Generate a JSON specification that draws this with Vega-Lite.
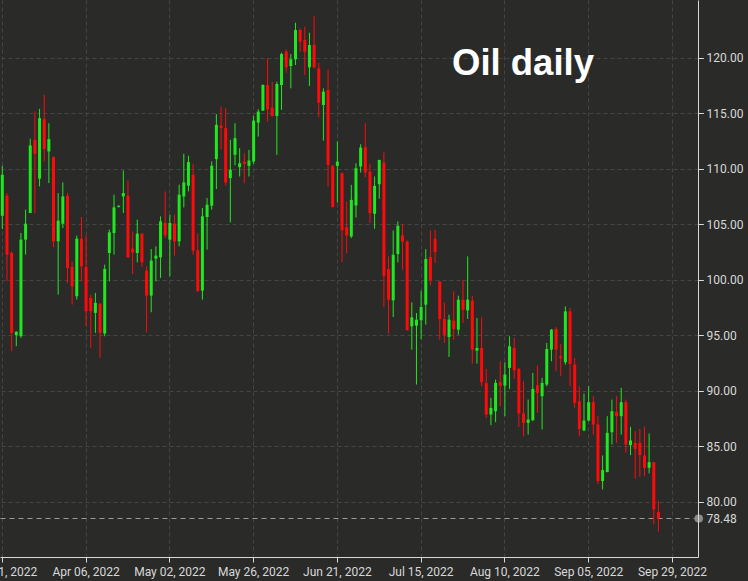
{
  "$schema": "https://vega.github.io/schema/vega-lite/v6.json",
  "autosize": {"type": "none"},
  "padding": {"left": 0, "top": 0, "right": 50, "bottom": 24},
  "width": 698,
  "height": 557,
  "background": "#2a2b29",
  "title": {
    "text": "Oil daily",
    "orient": "top",
    "anchor": "start",
    "frame": "group",
    "offset": 0,
    "baseline": "alphabetic",
    "dx": 452,
    "dy": 111,
    "font": "Liberation Sans",
    "fontSize": 36.5,
    "fontWeight": "bold",
    "color": "#ffffff"
  },
  "data": {
    "values": [
      {"d": "2022-03-11", "o": 105.76, "h": 110.26, "l": 104.56, "c": 109.45},
      {"d": "2022-03-14", "o": 107.56, "h": 107.8, "l": 99.85, "c": 102.25},
      {"d": "2022-03-15", "o": 102.4, "h": 102.55, "l": 93.55, "c": 95.2},
      {"d": "2022-03-16", "o": 95.0, "h": 95.35, "l": 94.0, "c": 95.3},
      {"d": "2022-03-17", "o": 94.9, "h": 104.2, "l": 94.75, "c": 103.6},
      {"d": "2022-03-18", "o": 103.6, "h": 106.3, "l": 102.25, "c": 105.04},
      {"d": "2022-03-21", "o": 106.0, "h": 112.69, "l": 106.0, "c": 112.09},
      {"d": "2022-03-22", "o": 112.6, "h": 115.15, "l": 106.0, "c": 111.34},
      {"d": "2022-03-23", "o": 109.09, "h": 115.39, "l": 108.4, "c": 114.55},
      {"d": "2022-03-24", "o": 114.46, "h": 116.65, "l": 110.65, "c": 111.76},
      {"d": "2022-03-25", "o": 111.55, "h": 114.1, "l": 108.7, "c": 112.66},
      {"d": "2022-03-28", "o": 111.04, "h": 111.1, "l": 102.91, "c": 103.45},
      {"d": "2022-03-29", "o": 103.45, "h": 107.8, "l": 98.65, "c": 105.31},
      {"d": "2022-03-30", "o": 105.04, "h": 108.76, "l": 104.65, "c": 107.5},
      {"d": "2022-03-31", "o": 107.56, "h": 107.8, "l": 99.7, "c": 101.05},
      {"d": "2022-04-01", "o": 101.14, "h": 101.65, "l": 97.75, "c": 99.4},
      {"d": "2022-04-04", "o": 98.5, "h": 103.96, "l": 98.2, "c": 103.69},
      {"d": "2022-04-05", "o": 103.69, "h": 105.64, "l": 99.85, "c": 101.2},
      {"d": "2022-04-06", "o": 101.14, "h": 103.99, "l": 95.8, "c": 97.15},
      {"d": "2022-04-07", "o": 98.35, "h": 98.65, "l": 93.85, "c": 97.15},
      {"d": "2022-04-08", "o": 97.0, "h": 98.8, "l": 95.2, "c": 97.9},
      {"d": "2022-04-11", "o": 97.84, "h": 97.84, "l": 92.95, "c": 95.2},
      {"d": "2022-04-12", "o": 95.14, "h": 101.35, "l": 94.9, "c": 100.96},
      {"d": "2022-04-13", "o": 102.4, "h": 104.5, "l": 99.85, "c": 104.26},
      {"d": "2022-04-14", "o": 104.2, "h": 107.65, "l": 102.25, "c": 106.51},
      {"d": "2022-04-15", "o": 106.55, "h": 106.7, "l": 106.5, "c": 106.65},
      {"d": "2022-04-18", "o": 107.5, "h": 109.84, "l": 106.0, "c": 107.8},
      {"d": "2022-04-19", "o": 107.56, "h": 108.94, "l": 101.95, "c": 102.01},
      {"d": "2022-04-20", "o": 102.79, "h": 104.35, "l": 100.51, "c": 102.46},
      {"d": "2022-04-21", "o": 102.4, "h": 105.4, "l": 101.56, "c": 104.14},
      {"d": "2022-04-22", "o": 104.14, "h": 104.2, "l": 101.14, "c": 101.56},
      {"d": "2022-04-25", "o": 100.81, "h": 101.2, "l": 95.26, "c": 98.56},
      {"d": "2022-04-26", "o": 98.56, "h": 102.76, "l": 97.06, "c": 101.71},
      {"d": "2022-04-27", "o": 101.89, "h": 103.0, "l": 99.85, "c": 102.16},
      {"d": "2022-04-28", "o": 102.01, "h": 105.7, "l": 100.15, "c": 105.25},
      {"d": "2022-04-29", "o": 105.1, "h": 107.95, "l": 103.75, "c": 103.99},
      {"d": "2022-05-02", "o": 103.6, "h": 105.85, "l": 100.3, "c": 105.1},
      {"d": "2022-05-03", "o": 105.04, "h": 105.85, "l": 102.16, "c": 103.45},
      {"d": "2022-05-04", "o": 103.45, "h": 108.55, "l": 103.0, "c": 107.65},
      {"d": "2022-05-05", "o": 107.5, "h": 111.34, "l": 106.51, "c": 108.76},
      {"d": "2022-05-06", "o": 108.46, "h": 111.16, "l": 107.95, "c": 110.59},
      {"d": "2022-05-09", "o": 109.45, "h": 110.44, "l": 102.25, "c": 102.61},
      {"d": "2022-05-10", "o": 102.64, "h": 104.14, "l": 98.95, "c": 98.95},
      {"d": "2022-05-11", "o": 99.01, "h": 106.45, "l": 98.2, "c": 105.7},
      {"d": "2022-05-12", "o": 105.64, "h": 107.35, "l": 102.7, "c": 106.75},
      {"d": "2022-05-13", "o": 106.66, "h": 110.65, "l": 106.3, "c": 110.26},
      {"d": "2022-05-16", "o": 110.86, "h": 114.91, "l": 108.16, "c": 113.95},
      {"d": "2022-05-17", "o": 113.89, "h": 115.6, "l": 111.76, "c": 113.65},
      {"d": "2022-05-18", "o": 113.65, "h": 115.45, "l": 108.46, "c": 108.76},
      {"d": "2022-05-19", "o": 109.15, "h": 112.6, "l": 105.16, "c": 109.9},
      {"d": "2022-05-20", "o": 111.25, "h": 114.1, "l": 110.3, "c": 112.75},
      {"d": "2022-05-23", "o": 110.13, "h": 111.84, "l": 109.29, "c": 110.49},
      {"d": "2022-05-24", "o": 110.64, "h": 111.39, "l": 108.69, "c": 110.43},
      {"d": "2022-05-25", "o": 110.25, "h": 111.69, "l": 109.29, "c": 110.73},
      {"d": "2022-05-26", "o": 110.64, "h": 114.75, "l": 110.43, "c": 114.33},
      {"d": "2022-05-27", "o": 114.15, "h": 115.35, "l": 112.89, "c": 115.14},
      {"d": "2022-05-30", "o": 115.23, "h": 117.6, "l": 115.2, "c": 117.54},
      {"d": "2022-05-31", "o": 117.54, "h": 119.94, "l": 114.24, "c": 115.35},
      {"d": "2022-06-01", "o": 115.5, "h": 117.84, "l": 114.69, "c": 114.75},
      {"d": "2022-06-02", "o": 114.75, "h": 117.84, "l": 111.24, "c": 117.63},
      {"d": "2022-06-03", "o": 117.54, "h": 120.45, "l": 115.29, "c": 120.33},
      {"d": "2022-06-06", "o": 120.54, "h": 120.75, "l": 118.65, "c": 119.13},
      {"d": "2022-06-07", "o": 119.25, "h": 120.33, "l": 117.24, "c": 119.85},
      {"d": "2022-06-08", "o": 119.85, "h": 123.15, "l": 119.34, "c": 122.49},
      {"d": "2022-06-09", "o": 122.49, "h": 122.64, "l": 120.54, "c": 121.44},
      {"d": "2022-06-10", "o": 121.59, "h": 122.79, "l": 118.44, "c": 120.54},
      {"d": "2022-06-13", "o": 119.13, "h": 122.25, "l": 117.45, "c": 121.14},
      {"d": "2022-06-14", "o": 121.14, "h": 123.75, "l": 119.04, "c": 119.13},
      {"d": "2022-06-15", "o": 119.04, "h": 119.55, "l": 114.63, "c": 115.95},
      {"d": "2022-06-16", "o": 115.74, "h": 117.24, "l": 112.53, "c": 116.94},
      {"d": "2022-06-17", "o": 117.09, "h": 118.95, "l": 108.39, "c": 110.34},
      {"d": "2022-06-20", "o": 110.25, "h": 110.34, "l": 106.53, "c": 106.53},
      {"d": "2022-06-21", "o": 110.25, "h": 112.44, "l": 106.95, "c": 110.64},
      {"d": "2022-06-22", "o": 109.59, "h": 109.65, "l": 101.55, "c": 104.46},
      {"d": "2022-06-23", "o": 104.73, "h": 107.04, "l": 102.39, "c": 103.98},
      {"d": "2022-06-24", "o": 103.89, "h": 108.54, "l": 103.74, "c": 107.19},
      {"d": "2022-06-27", "o": 106.68, "h": 110.49, "l": 105.6, "c": 110.04},
      {"d": "2022-06-28", "o": 110.19, "h": 112.2, "l": 109.65, "c": 111.9},
      {"d": "2022-06-29", "o": 111.93, "h": 114.09, "l": 109.23, "c": 109.65},
      {"d": "2022-06-30", "o": 109.74, "h": 110.43, "l": 105.09, "c": 105.99},
      {"d": "2022-07-01", "o": 105.93, "h": 109.29, "l": 104.58, "c": 108.45},
      {"d": "2022-07-04", "o": 108.6, "h": 110.79, "l": 107.28, "c": 110.79},
      {"d": "2022-07-05", "o": 110.55, "h": 111.48, "l": 97.53, "c": 100.35},
      {"d": "2022-07-06", "o": 100.95, "h": 102.09, "l": 95.13, "c": 98.19},
      {"d": "2022-07-07", "o": 98.13, "h": 104.43, "l": 96.63, "c": 102.24},
      {"d": "2022-07-08", "o": 102.3, "h": 105.24, "l": 101.55, "c": 104.85},
      {"d": "2022-07-11", "o": 103.98, "h": 105.03, "l": 100.89, "c": 103.44},
      {"d": "2022-07-12", "o": 103.44, "h": 103.53, "l": 95.43, "c": 95.43},
      {"d": "2022-07-13", "o": 95.79, "h": 97.95, "l": 93.69, "c": 96.6},
      {"d": "2022-07-14", "o": 95.85, "h": 96.99, "l": 90.54, "c": 96.39},
      {"d": "2022-07-15", "o": 96.33, "h": 99.0, "l": 94.65, "c": 97.53},
      {"d": "2022-07-18", "o": 97.74, "h": 102.75, "l": 95.94, "c": 101.85},
      {"d": "2022-07-19", "o": 102.03, "h": 104.43, "l": 99.48, "c": 99.93},
      {"d": "2022-07-20", "o": 103.68, "h": 104.49, "l": 101.49, "c": 102.48},
      {"d": "2022-07-21", "o": 99.84, "h": 99.84, "l": 94.59, "c": 96.45},
      {"d": "2022-07-22", "o": 96.45, "h": 97.95, "l": 94.29, "c": 95.04},
      {"d": "2022-07-25", "o": 94.83, "h": 96.84, "l": 93.03, "c": 96.39},
      {"d": "2022-07-26", "o": 96.3, "h": 98.94, "l": 94.59, "c": 95.55},
      {"d": "2022-07-27", "o": 95.49, "h": 98.55, "l": 95.04, "c": 98.19},
      {"d": "2022-07-28", "o": 98.19, "h": 99.99, "l": 96.09, "c": 97.29},
      {"d": "2022-07-29", "o": 97.23, "h": 102.09, "l": 96.45, "c": 98.19},
      {"d": "2022-08-01", "o": 98.1, "h": 98.55, "l": 92.43, "c": 93.69},
      {"d": "2022-08-02", "o": 93.6, "h": 96.54, "l": 92.43, "c": 93.84},
      {"d": "2022-08-03", "o": 93.84, "h": 96.6, "l": 90.39, "c": 90.75},
      {"d": "2022-08-04", "o": 90.69, "h": 91.95, "l": 87.54, "c": 87.84},
      {"d": "2022-08-05", "o": 87.84, "h": 89.34, "l": 86.88, "c": 88.44},
      {"d": "2022-08-08", "o": 88.14, "h": 90.99, "l": 87.15, "c": 90.69},
      {"d": "2022-08-09", "o": 90.75, "h": 92.64, "l": 88.59, "c": 90.45},
      {"d": "2022-08-10", "o": 90.45, "h": 92.55, "l": 87.69, "c": 91.44},
      {"d": "2022-08-11", "o": 92.04, "h": 94.89, "l": 90.15, "c": 93.99},
      {"d": "2022-08-12", "o": 93.84, "h": 94.74, "l": 91.05, "c": 91.83},
      {"d": "2022-08-15", "o": 91.95, "h": 92.04, "l": 86.73, "c": 87.93},
      {"d": "2022-08-16", "o": 87.93, "h": 90.84, "l": 85.89, "c": 87.09},
      {"d": "2022-08-17", "o": 87.09, "h": 89.19, "l": 86.04, "c": 87.39},
      {"d": "2022-08-18", "o": 87.33, "h": 91.59, "l": 87.24, "c": 90.15},
      {"d": "2022-08-19", "o": 90.48, "h": 92.25, "l": 87.99, "c": 89.79},
      {"d": "2022-08-22", "o": 89.49, "h": 91.14, "l": 86.49, "c": 90.69},
      {"d": "2022-08-23", "o": 90.54, "h": 94.29, "l": 90.39, "c": 93.75},
      {"d": "2022-08-24", "o": 93.69, "h": 95.55, "l": 92.64, "c": 95.49},
      {"d": "2022-08-25", "o": 95.55, "h": 95.73, "l": 91.74, "c": 93.69},
      {"d": "2022-08-26", "o": 93.09, "h": 94.2, "l": 91.29, "c": 92.91},
      {"d": "2022-08-29", "o": 92.55, "h": 97.59, "l": 92.34, "c": 97.14},
      {"d": "2022-08-30", "o": 97.14, "h": 97.44, "l": 90.39, "c": 92.4},
      {"d": "2022-08-31", "o": 92.34, "h": 92.94, "l": 88.44, "c": 88.89},
      {"d": "2022-09-01", "o": 89.04, "h": 90.39, "l": 85.89, "c": 86.55},
      {"d": "2022-09-02", "o": 86.4, "h": 89.73, "l": 86.34, "c": 87.3},
      {"d": "2022-09-05", "o": 87.3, "h": 90.39, "l": 87.24, "c": 88.95},
      {"d": "2022-09-06", "o": 88.95, "h": 89.49, "l": 86.04, "c": 86.94},
      {"d": "2022-09-07", "o": 86.94, "h": 87.69, "l": 81.54, "c": 81.84},
      {"d": "2022-09-08", "o": 81.84, "h": 84.15, "l": 81.09, "c": 82.83},
      {"d": "2022-09-09", "o": 82.65, "h": 87.69, "l": 82.65, "c": 86.19},
      {"d": "2022-09-12", "o": 86.25, "h": 89.19, "l": 85.14, "c": 88.14},
      {"d": "2022-09-13", "o": 88.08, "h": 89.49, "l": 85.29, "c": 87.69},
      {"d": "2022-09-14", "o": 87.69, "h": 90.24, "l": 86.04, "c": 88.95},
      {"d": "2022-09-15", "o": 88.95, "h": 89.19, "l": 84.39, "c": 85.14},
      {"d": "2022-09-16", "o": 85.08, "h": 86.73, "l": 84.18, "c": 85.5},
      {"d": "2022-09-19", "o": 85.29, "h": 86.34, "l": 82.05, "c": 84.75},
      {"d": "2022-09-20", "o": 85.29, "h": 86.55, "l": 82.23, "c": 84.18},
      {"d": "2022-09-21", "o": 84.15, "h": 86.73, "l": 82.29, "c": 83.04},
      {"d": "2022-09-22", "o": 83.04, "h": 86.13, "l": 82.53, "c": 83.55},
      {"d": "2022-09-23", "o": 83.55, "h": 83.55, "l": 77.94, "c": 79.29},
      {"d": "2022-09-26", "o": 79.05, "h": 80.04, "l": 77.3, "c": 78.48}
    ]
  },
  "encoding": {
    "x": {
      "field": "d",
      "type": "ordinal",
      "title": null,
      "scale": {
        "paddingInner": 0,
        "paddingOuter": 0,
        "domain": ["2022-03-11","2022-03-14","2022-03-15","2022-03-16","2022-03-17","2022-03-18","2022-03-21","2022-03-22","2022-03-23","2022-03-24","2022-03-25","2022-03-28","2022-03-29","2022-03-30","2022-03-31","2022-04-01","2022-04-04","2022-04-05","2022-04-06","2022-04-07","2022-04-08","2022-04-11","2022-04-12","2022-04-13","2022-04-14","2022-04-15","2022-04-18","2022-04-19","2022-04-20","2022-04-21","2022-04-22","2022-04-25","2022-04-26","2022-04-27","2022-04-28","2022-04-29","2022-05-02","2022-05-03","2022-05-04","2022-05-05","2022-05-06","2022-05-09","2022-05-10","2022-05-11","2022-05-12","2022-05-13","2022-05-16","2022-05-17","2022-05-18","2022-05-19","2022-05-20","2022-05-23","2022-05-24","2022-05-25","2022-05-26","2022-05-27","2022-05-30","2022-05-31","2022-06-01","2022-06-02","2022-06-03","2022-06-06","2022-06-07","2022-06-08","2022-06-09","2022-06-10","2022-06-13","2022-06-14","2022-06-15","2022-06-16","2022-06-17","2022-06-20","2022-06-21","2022-06-22","2022-06-23","2022-06-24","2022-06-27","2022-06-28","2022-06-29","2022-06-30","2022-07-01","2022-07-04","2022-07-05","2022-07-06","2022-07-07","2022-07-08","2022-07-11","2022-07-12","2022-07-13","2022-07-14","2022-07-15","2022-07-18","2022-07-19","2022-07-20","2022-07-21","2022-07-22","2022-07-25","2022-07-26","2022-07-27","2022-07-28","2022-07-29","2022-08-01","2022-08-02","2022-08-03","2022-08-04","2022-08-05","2022-08-08","2022-08-09","2022-08-10","2022-08-11","2022-08-12","2022-08-15","2022-08-16","2022-08-17","2022-08-18","2022-08-19","2022-08-22","2022-08-23","2022-08-24","2022-08-25","2022-08-26","2022-08-29","2022-08-30","2022-08-31","2022-09-01","2022-09-02","2022-09-05","2022-09-06","2022-09-07","2022-09-08","2022-09-09","2022-09-12","2022-09-13","2022-09-14","2022-09-15","2022-09-16","2022-09-19","2022-09-20","2022-09-21","2022-09-22","2022-09-23","2022-09-26","2022-09-27","2022-09-28","2022-09-29","2022-09-30","2022-10-03","2022-10-04","2022-10-05","2022-10-06"]
      },
      "axis": {
        "values": ["2022-03-11", "2022-04-06", "2022-05-02", "2022-05-26", "2022-06-21", "2022-07-15", "2022-08-10", "2022-09-05", "2022-09-29"],
        "labelExpr": "utcFormat(toDate(datum.value), '%b %d, %Y')",
        "labelAngle": 0,
        "labelOverlap": false,
        "bandPosition": 0.5,
        "grid": true,
        "gridColor": "#454644",
        "gridDash": [4, 3],
        "domainColor": "#d8d8d8",
        "tickColor": "#d8d8d8",
        "tickSize": 5,
        "labelPadding": 4
      }
    },
    "color": {
      "condition": {"test": "datum.c >= datum.o", "value": "#1ee81e"},
      "value": "#ff0a0a"
    }
  },
  "layer": [
    {
      "mark": {"type": "rule", "strokeWidth": 1},
      "encoding": {
        "y": {
          "field": "l",
          "type": "quantitative",
          "scale": {"domain": [75.0, 125.2], "nice": false, "zero": false},
          "axis": {
            "orient": "right",
            "title": null,
            "values": [78.48, 80, 85, 90, 95, 100, 105, 110, 115, 120],
            "format": ".2f",
            "grid": true,
            "gridColor": {"condition": {"test": "datum.value == 78.48", "value": "#9a9a9a"}, "value": "#454644"},
            "gridDash": {"condition": {"test": "datum.value == 78.48", "value": [5, 4]}, "value": [4, 3]},
            "tickColor": {"condition": {"test": "datum.value == 78.48", "value": "#8c8c8c"}, "value": "#d8d8d8"},
            "tickWidth": {"condition": {"test": "datum.value == 78.48", "value": 8}, "value": 1},
            "tickSize": {"condition": {"test": "datum.value == 78.48", "value": 0.5}, "value": 5},
            "labelPadding": {"condition": {"test": "datum.value == 78.48", "value": 7.5}, "value": 3},
            "tickCap": "round",
            "domainColor": "#d8d8d8"
          }
        },
        "y2": {"field": "h"}
      }
    },
    {
      "mark": {"type": "bar", "size": 3},
      "encoding": {
        "y": {"field": "o", "type": "quantitative"},
        "y2": {"field": "c"}
      }
    }
  ],
  "config": {
    "view": {"stroke": null},
    "axis": {
      "labelFont": "Roboto",
      "labelFontSize": 12,
      "labelColor": "#d8d8d8",
      "domainWidth": 1
    }
  }
}
